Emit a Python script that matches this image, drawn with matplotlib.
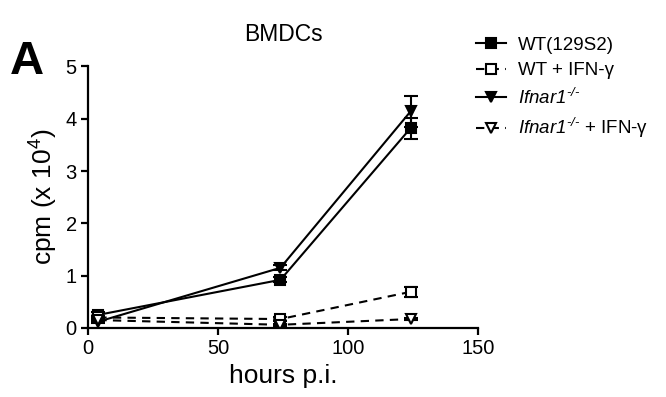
import matplotlib
matplotlib.use('Agg')
import matplotlib.pyplot as plt
import numpy as np

plt.rcParams['font.family'] = ['Liberation Sans', 'DejaVu Sans']
plt.rcParams['mathtext.fontset'] = 'custom'
plt.rcParams['mathtext.rm'] = 'Liberation Sans'
plt.rcParams['mathtext.it'] = 'Liberation Sans:italic'
plt.rcParams['mathtext.sf'] = 'Liberation Sans:italic'
plt.rcParams['mathtext.bf'] = 'Liberation Sans:bold'

# hours post infection
hours = [4, 74, 124]

wt = [0.25, 0.92, 3.82]
wt_err = [0.05, 0.05, 0.2]
wt_ifn = [0.2, 0.17, 0.69]
wt_ifn_err = [0.03, 0.03, 0.1]
ifnar = [0.12, 1.15, 4.14]
ifnar_err = [0.03, 0.05, 0.3]
ifnar_ifn = [0.15, 0.06, 0.17]
ifnar_ifn_err = [0.02, 0.02, 0.02]

labels = ['WT(129S2)', 'WT + IFN-γ',
          r'$\mathsf{Ifnar1}^{\mathsf{‐/‐}}$',
          r'$\mathsf{Ifnar1}^{\mathsf{‐/‐}}$ + IFN-γ']

fig = plt.figure(figsize=(6.66, 3.97), dpi=100)
ax = fig.add_axes([0.132, 0.174, 0.586, 0.6585])

series = [
    (wt, wt_err, 's', 'black', '-'),
    (wt_ifn, wt_ifn_err, 's', 'white', (0, (4, 3))),
    (ifnar, ifnar_err, 'v', 'black', '-'),
    (ifnar_ifn, ifnar_ifn_err, 'v', 'white', (0, (4, 3))),
]
handles = []
for (vals, err, mk, fc, ls), lab in zip(series, labels):
    ax.errorbar(hours, vals, yerr=err, color='black', ecolor='black',
                elinewidth=1.5, capsize=5, capthick=1.5, linestyle='none')
    h, = ax.plot(hours, vals, linestyle=ls, marker=mk, color='black',
                 markerfacecolor=fc, markeredgecolor='black',
                 markeredgewidth=1.5, markersize=7, linewidth=1.5, label=lab)
    handles.append(h)

ax.set_xlim(0, 150)
ax.set_ylim(0, 5)
ax.set_xticks([0, 50, 100, 150])
ax.set_yticks([0, 1, 2, 3, 4, 5])
for s in ['top', 'right']:
    ax.spines[s].set_visible(False)
for s in ['left', 'bottom']:
    ax.spines[s].set_linewidth(1.6)
ax.tick_params(width=1.6, length=5, labelsize=14.5, pad=3)
ax.set_xlabel('hours p.i.', fontsize=19, labelpad=4)
ax.set_ylabel('cpm (x 10$^4$)', fontsize=19, labelpad=4)
ax.set_title('BMDCs', fontsize=16.5, pad=18)

fig.text(0.015, 0.845, 'A', fontsize=34, fontweight='bold', va='center')

fig.legend(handles=handles, labels=labels, loc='upper left',
           bbox_to_anchor=(0.69, 0.95), frameon=False, fontsize=13.5,
           handlelength=1.6, handletextpad=0.6, labelspacing=0.45)

fig.savefig('out.png', dpi=100)
